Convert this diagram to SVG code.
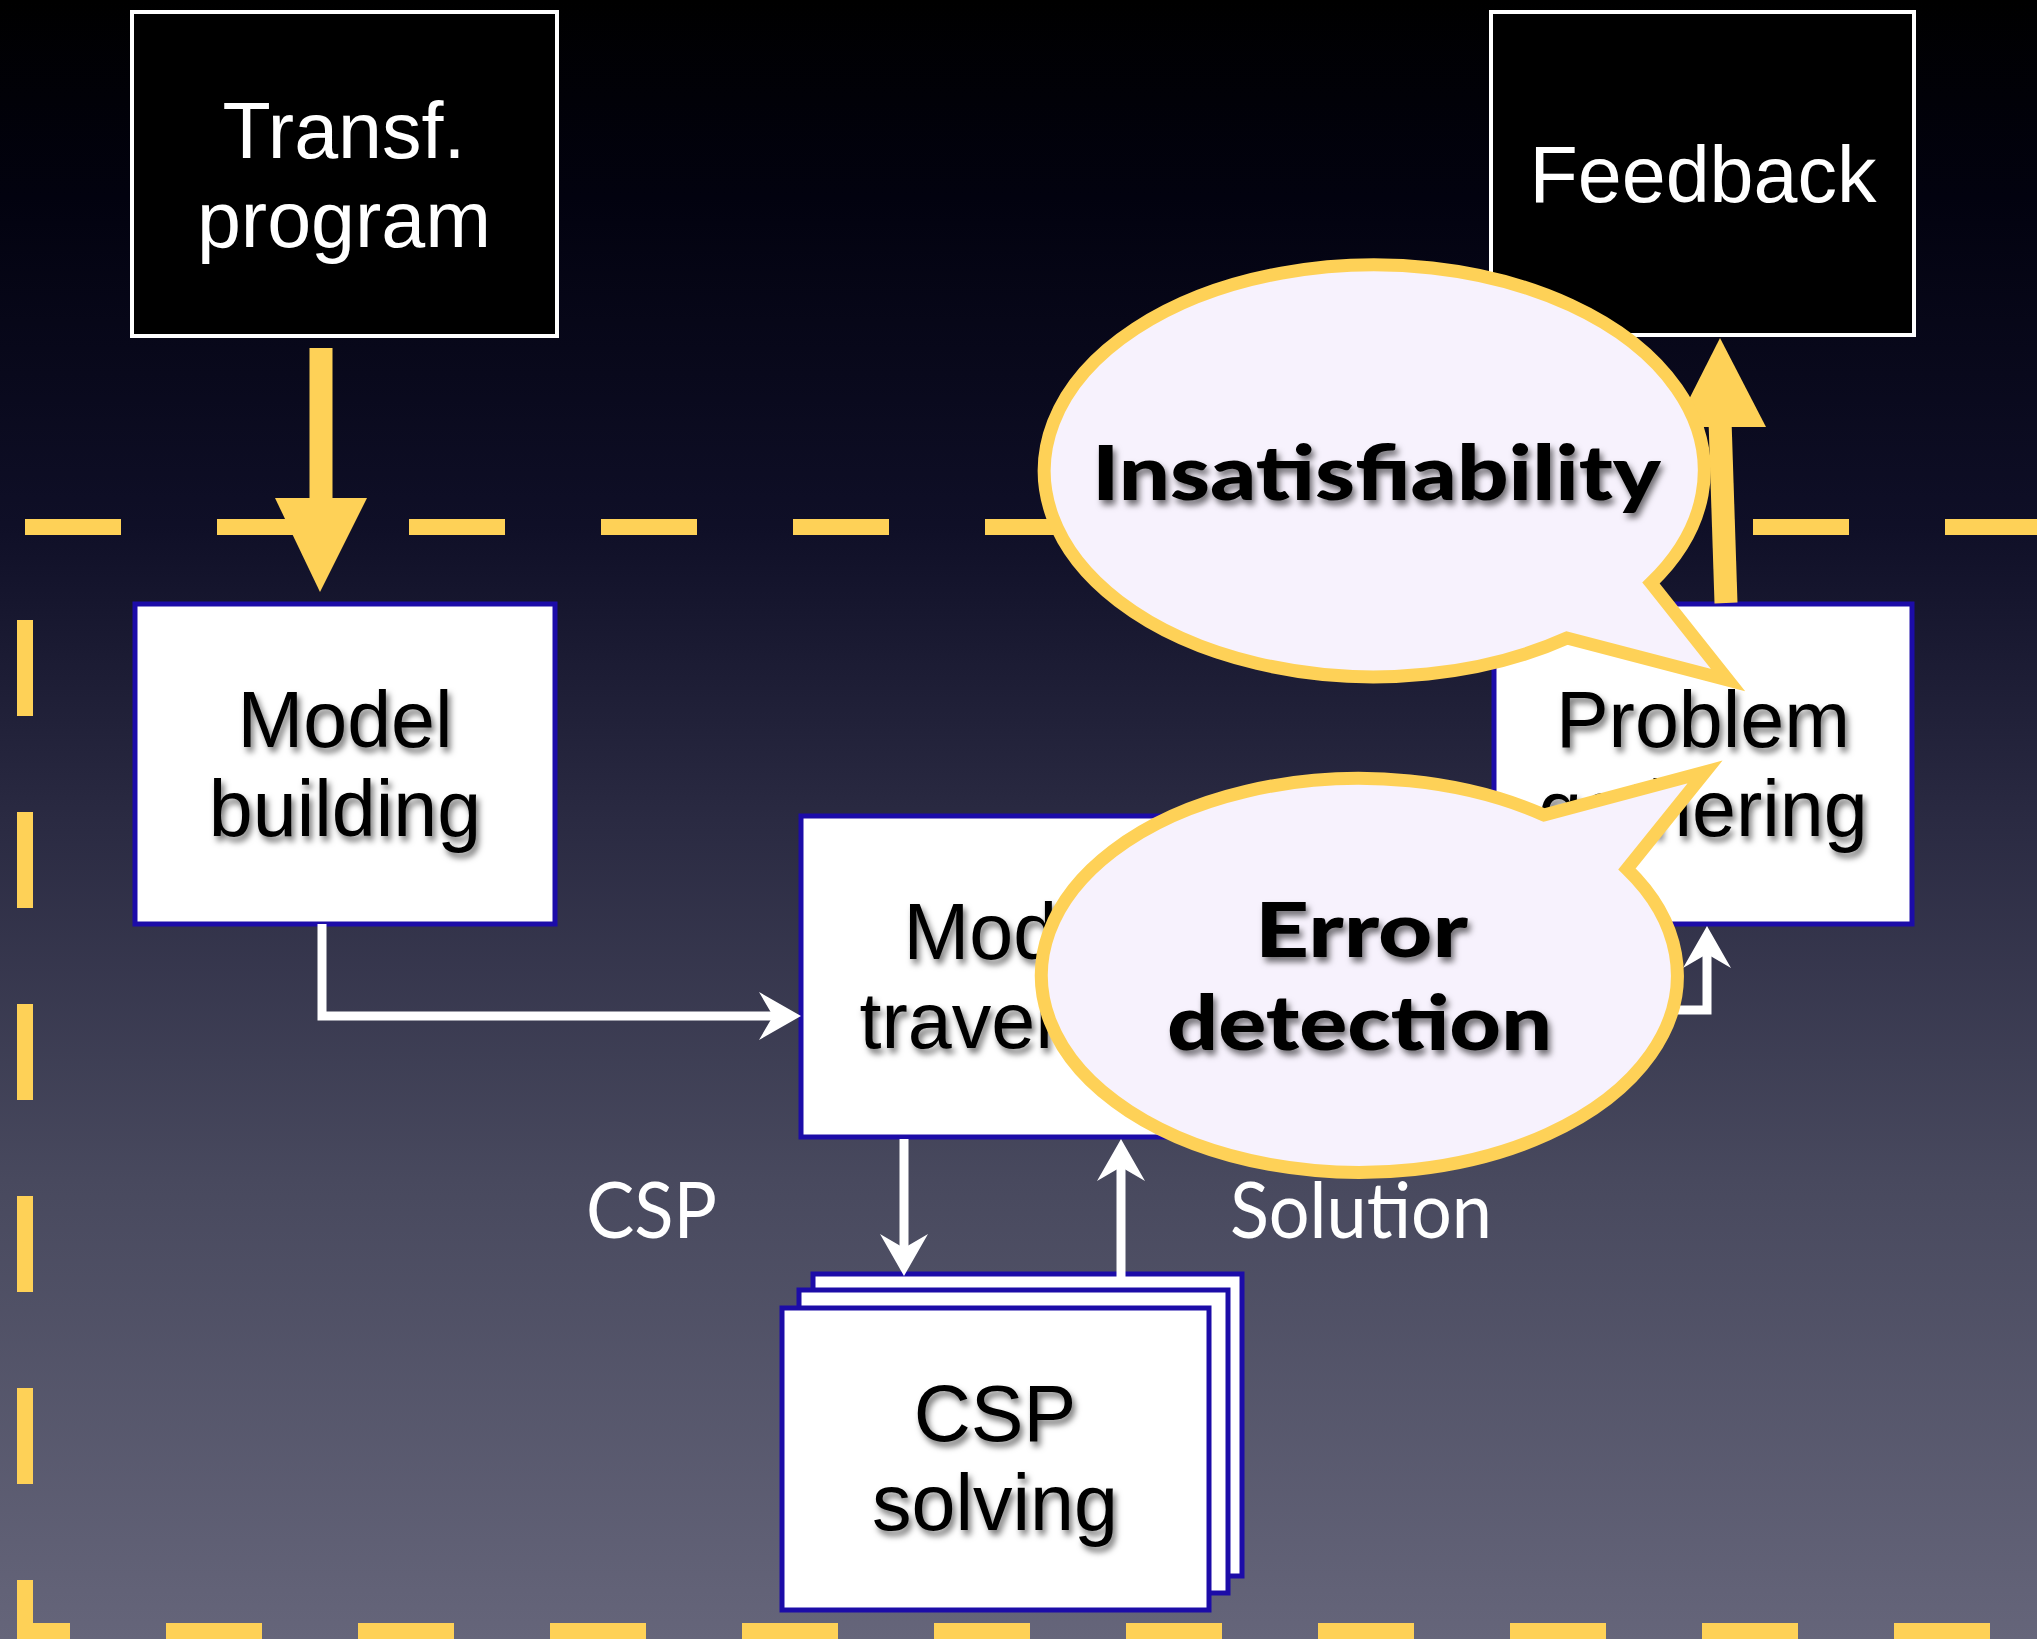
<svg xmlns="http://www.w3.org/2000/svg" width="2037" height="1639" viewBox="0 0 2037 1639">
  <defs>
    <linearGradient id="bg" x1="0" y1="0" x2="0" y2="1">
      <stop offset="0" stop-color="#000000"/>
      <stop offset="0.12" stop-color="#02020f"/>
      <stop offset="0.32" stop-color="#0f0f27"/>
      <stop offset="0.5" stop-color="#2a2a42"/>
      <stop offset="0.72" stop-color="#48495e"/>
      <stop offset="1" stop-color="#65657a"/>
    </linearGradient>
    <filter id="shadow" x="-10%" y="-30%" width="130%" height="170%">
      <feDropShadow dx="3" dy="5" stdDeviation="3" flood-color="#000" flood-opacity="0.55"/>
    </filter>
    <marker id="arrow" viewBox="0 0 42 48" refX="14" refY="24" markerWidth="42" markerHeight="48" markerUnits="userSpaceOnUse" orient="auto">
      <path d="M0,0 L42,24 L0,48 L14,24 Z" fill="#ffffff"/>
    </marker>
    <style>
      .box { fill:#ffffff; stroke:#1c0ca8; stroke-width:5; }
      .dark { fill:#000000; stroke:#ffffff; stroke-width:4; }
      .label { font-family:"Liberation Sans", Arial, sans-serif; font-size:79px; text-anchor:middle; }
      .ink { fill:#000000; filter:url(#shadow); }
      .light { fill:#ffffff; }
      .frame { fill:none; stroke:#fed157; stroke-width:16; stroke-dasharray:96 96; }
      .wire { fill:none; stroke:#ffffff; stroke-width:9; marker-end:url(#arrow); }
      .flow { fill:none; stroke:#fed157; stroke-width:23; }
      .flowhead { fill:#fed157; }
      .bubble { fill:#f7f2fd; stroke:#fed157; stroke-width:13; stroke-miterlimit:10; }
      .callout { font-family:Lato, "Open Sans", sans-serif; font-weight:900; font-size:76px; fill:#000000; filter:url(#shadow); }
      .tag { font-family:Lato, "Open Sans", sans-serif; font-size:78px; fill:#ffffff; }
    </style>
  </defs>

  <!-- backdrop -->
  <rect x="0" y="0" width="2037" height="1639" fill="url(#bg)"/>

  <!-- dashed boundary of the processing stage -->
  <g id="frame">
    <path class="frame" d="M25,527 H2037"/>
    <path class="frame" d="M25,527 V1631 H2037" stroke-dashoffset="99"/>
  </g>

  <!-- nodes -->
  <g id="transf-program">
    <rect class="dark" x="132" y="12" width="425" height="324"/>
    <text class="label light" x="344" y="158">Transf.</text>
    <text class="label light" x="344" y="247">program</text>
  </g>

  <g id="feedback">
    <rect class="dark" x="1491" y="12" width="423" height="323"/>
    <text class="label light" x="1703" y="202">Feedback</text>
  </g>

  <g id="model-building">
    <rect class="box" x="135" y="604" width="420" height="320"/>
    <text class="label ink" x="345" y="747">Model</text>
    <text class="label ink" x="345" y="836">building</text>
  </g>

  <g id="problem-gathering">
    <rect class="box" x="1494" y="604" width="418" height="320"/>
    <text class="label ink" x="1703" y="747">Problem</text>
    <text class="label ink" x="1703" y="836">gathering</text>
  </g>

  <g id="model-traversal">
    <rect class="box" x="801" y="816" width="420" height="321"/>
    <text class="label ink" x="1011" y="959">Model</text>
    <text class="label ink" x="1011" y="1048">traversal</text>
  </g>

  <g id="csp-solving">
    <rect class="box" x="813" y="1274" width="429" height="302"/>
    <rect class="box" x="799" y="1290" width="429" height="303"/>
    <rect class="box" x="782" y="1308" width="427" height="302"/>
    <text class="label ink" x="995" y="1441">CSP</text>
    <text class="label ink" x="995" y="1530">solving</text>
  </g>

  <!-- connectors -->
  <g id="connectors">
    <path class="wire" d="M322,924 V1016 H773"/>
    <path class="wire" d="M904,1139 V1248"/>
    <path class="wire" d="M1121,1280 V1167"/>
    <path class="wire" d="M1221,1010 H1707 V954"/>

    <path class="flow" d="M321,348 V505"/>
    <polygon class="flowhead" points="275,498 367,498 320,592"/>
    <path class="flow" d="M1726,603 L1720,420"/>
    <polygon class="flowhead" points="1675,427 1766,427 1720,338"/>

    <text class="tag" x="586" y="1238" textLength="131" lengthAdjust="spacingAndGlyphs">CSP</text>
    <text class="tag" x="1230" y="1238" textLength="262" lengthAdjust="spacingAndGlyphs">Solution</text>
  </g>

  <!-- callouts -->
  <g id="insatisfiability">
    <path class="bubble" d="M1651,583 L1728,680 L1567,638 A330,206 0 1 1 1651,583 Z"/>
    <text class="callout" x="1092" y="500" textLength="569" lengthAdjust="spacingAndGlyphs">Insatisfiability</text>
  </g>

  <g id="error-detection">
    <path class="bubble" d="M1544,815 L1705,772 L1627,869 A318,197 0 1 1 1544,815 Z"/>
    <text class="callout" x="1255" y="957" textLength="213" lengthAdjust="spacingAndGlyphs">Error</text>
    <text class="callout" x="1167" y="1050" textLength="385" lengthAdjust="spacingAndGlyphs">detection</text>
  </g>
</svg>
